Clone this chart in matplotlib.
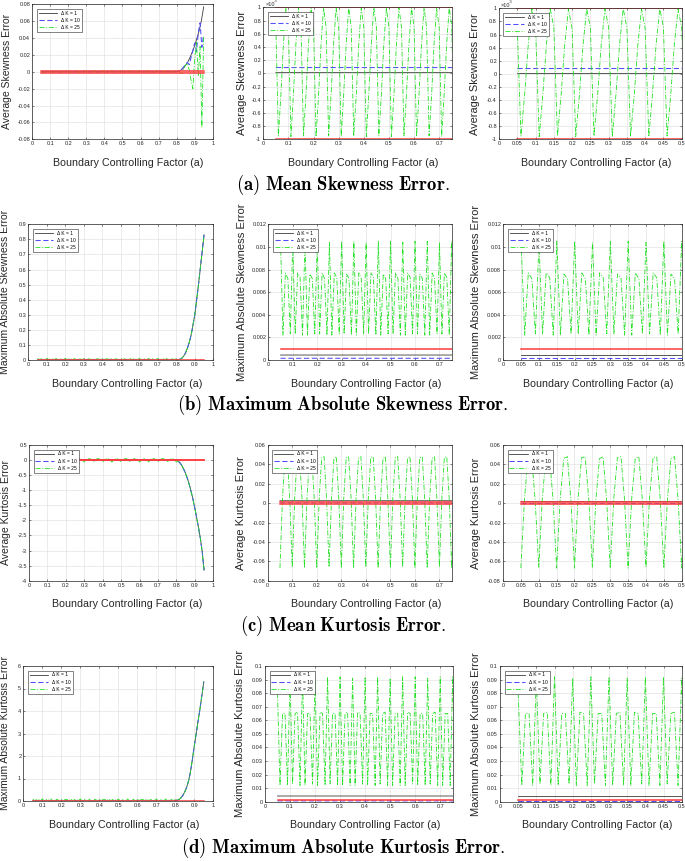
import numpy as np
import matplotlib
matplotlib.use("Agg")
import matplotlib.pyplot as plt
from matplotlib.ticker import FuncFormatter

W, H = 685, 861
plt.rcParams["font.family"] = ["Liberation Sans", "DejaVu Sans"]
plt.rcParams["mathtext.fontset"] = "cm"

# boundary controlling factor a, one sample every 0.01 (0.05 .. 0.95)
a_values = np.round(np.arange(0.05, 0.951, 0.01), 2)
n_flat = 76  # samples 0.05 .. 0.80 ; the *_tail lists hold 0.81 .. 0.95
legend_labels = ["\u0394 K = 1", "\u0394 K = 10", "\u0394 K = 25"]
x_label = "Boundary Controlling Factor (a)"

# (a) mean skewness error
skew_mean_k1_flat = 0.00001
skew_mean_k1_tail = [0.0005, 0.0015, 0.003, 0.005, 0.008, 0.011, 0.015, 0.02,
                     0.025, 0.031, 0.038, 0.045, 0.053, 0.064, 0.077]
skew_mean_k10_flat = 0.000087
skew_mean_k10_tail = [0.0006, 0.0018, 0.0035, 0.006, 0.0095, 0.011, 0.0085, 0.017,
                      0.025, 0.034, 0.024, 0.046, 0.058, 0.029, 0.044]
# x1e-3
skew_mean_k25_e3 = [0.72, -0.95, -0.33, 0.44, 0.99, 0.70, -0.96, -0.31, 0.46, 1.00,
                    0.71, -0.95, -0.32, 0.45, 0.99, 0.69, -0.96, -0.33, 0.44, 1.00,
                    0.70, -0.95, -0.31, 0.46, 0.99, 0.71, -0.96, -0.32, 0.45, 1.00,
                    0.70, -0.95, -0.33, 0.44, 0.99, 0.69, -0.96, -0.31, 0.45, 1.00,
                    0.71, -0.95, -0.32, 0.46, 0.99, 0.70, -0.96, -0.33, 0.44, 1.00,
                    0.70, -0.95, -0.31, 0.45, 0.99, 0.71, -0.96, -0.32, 0.45, 1.00,
                    0.69, -0.95, -0.33, 0.46, 0.99, 0.70, -0.96, -0.31, 0.44, 1.00,
                    0.71, -0.95, -0.32, 0.45, 0.99, 0.70]
skew_mean_k25_tail = [0.0, -0.002, -0.002, 0.004, 0.008, 0.01, 0.002, -0.01,
                      -0.02, 0.015, 0.035, -0.005, 0.03, -0.066, 0.043]
skew_mean_limits = [-0.001, 0.001]

# (b) maximum absolute skewness error
skew_max_k1_flat = 0.00044
skew_max_k10_flat = 0.00015
skew_max_tail = [0.002, 0.005, 0.012, 0.026, 0.048, 0.078, 0.117, 0.165,
                 0.23, 0.30, 0.40, 0.50, 0.61, 0.72, 0.83]
skew_max_k25_e3 = [10.5, 2.2, 7.7, 7.2, 2.3, 10.4, 2.3, 7.7, 7.3, 2.2,
                   10.5, 2.2, 7.6, 7.2, 2.3, 10.5, 2.3, 7.7, 7.2, 2.2,
                   10.4, 2.2, 7.7, 7.3, 2.3, 10.5, 2.3, 7.6, 7.2, 2.2,
                   10.5, 2.2, 7.7, 7.2, 2.3, 10.4, 2.3, 7.7, 7.3, 2.2,
                   10.5, 2.2, 7.6, 7.2, 2.3, 10.5, 2.3, 7.7, 7.2, 2.2,
                   10.4, 2.2, 7.7, 7.3, 2.3, 10.5, 2.3, 7.6, 7.2, 2.2,
                   10.5, 2.2, 7.7, 7.2, 2.3, 10.4, 2.3, 7.7, 7.3, 2.2,
                   10.5, 2.2, 7.6, 7.2, 2.3, 10.5]
skew_max_limits = [0.001]

# (c) mean kurtosis error
kurt_mean_k1_flat = 0.0025
kurt_mean_k10_flat = 0.0002
kurt_mean_tail = [-0.04, -0.1, -0.19, -0.31, -0.45, -0.62, -0.82, -1.05,
                  -1.31, -1.6, -1.92, -2.25, -2.6, -3.05, -3.65]
kurt_mean_k25 = [-0.067, 0.004, 0.046, 0.048, 0.003, -0.066, 0.005, 0.047, 0.048, 0.004,
                 -0.067, 0.004, 0.046, 0.048, 0.003, -0.067, 0.005, 0.047, 0.048, 0.004,
                 -0.066, 0.004, 0.046, 0.048, 0.003, -0.067, 0.005, 0.047, 0.048, 0.004,
                 -0.067, 0.004, 0.046, 0.048, 0.003, -0.066, 0.005, 0.047, 0.048, 0.004,
                 -0.067, 0.004, 0.046, 0.048, 0.003, -0.067, 0.005, 0.047, 0.048, 0.004,
                 -0.066, 0.004, 0.046, 0.048, 0.003, -0.067, 0.005, 0.047, 0.048, 0.004,
                 -0.067, 0.004, 0.046, 0.048, 0.003, -0.066, 0.005, 0.047, 0.048, 0.004,
                 -0.067, 0.004, 0.046, 0.048, 0.003, -0.067]
kurt_mean_limits = [-0.001, 0.001]

# (d) maximum absolute kurtosis error
kurt_max_k1_flat = 0.0042
kurt_max_k10_flat = 0.0006
kurt_max_tail = [0.03, 0.07, 0.14, 0.25, 0.41, 0.62, 0.9, 1.3,
                 1.85, 2.45, 3.0, 3.55, 4.1, 4.7, 5.3]
kurt_max_k25 = [0.080, 0.012, 0.065, 0.065, 0.012, 0.092, 0.013, 0.065, 0.066, 0.012,
                0.092, 0.012, 0.065, 0.065, 0.013, 0.091, 0.012, 0.066, 0.065, 0.012,
                0.092, 0.013, 0.065, 0.065, 0.012, 0.092, 0.012, 0.065, 0.066, 0.012,
                0.091, 0.012, 0.066, 0.065, 0.013, 0.092, 0.012, 0.065, 0.065, 0.012,
                0.092, 0.013, 0.065, 0.066, 0.012, 0.091, 0.012, 0.065, 0.065, 0.012,
                0.092, 0.012, 0.066, 0.065, 0.013, 0.092, 0.012, 0.065, 0.065, 0.012,
                0.091, 0.013, 0.065, 0.066, 0.012, 0.092, 0.012, 0.065, 0.065, 0.012,
                0.092, 0.012, 0.066, 0.065, 0.013, 0.091]
kurt_max_limits = [0.001]


def join(flat, tail):
    return np.r_[np.full(n_flat, flat), tail]


rows = [
    dict(k1=join(skew_mean_k1_flat, skew_mean_k1_tail),
         k10=join(skew_mean_k10_flat, skew_mean_k10_tail),
         k25=np.r_[np.array(skew_mean_k25_e3) * 1e-3, skew_mean_k25_tail],
         limits=skew_mean_limits, ylabel="Average Skewness Error",
         caption=r"$\mathbf{(a)\ Mean\ Skewness\ Error.}$", cap_y=185,
         full=((-0.08, 0.08), np.arange(-0.08, 0.081, 0.02), 1),
         zoom=((-1e-3, 1e-3), np.arange(-1e-3, 1.01e-3, 2e-4), 1e3),
         boxes=[(32.3, 212.7, 4.3, 139.3), (263.3, 451.7, 7.3, 139.3), (499, 681.7, 8.3, 139.3)],
         ylab_x=[7.5, 242, 475], xlab_y=163),
    dict(k1=join(skew_max_k1_flat, skew_max_tail),
         k10=join(skew_max_k10_flat, skew_max_tail),
         k25=np.r_[np.array(skew_max_k25_e3) * 1e-3, skew_max_tail],
         limits=skew_max_limits, ylabel="Maximum Absolute Skewness Error",
         caption=r"$\mathbf{(b)\ Maximum\ Absolute\ Skewness\ Error.}$", cap_y=405,
         full=((0, 0.9), np.arange(0, 0.91, 0.1), 1),
         zoom=((0, 0.012), np.arange(0, 0.0121, 0.002), 1),
         boxes=[(28.3, 213.3, 224.3, 360), (268.3, 451.7, 224.3, 360), (503.3, 681.7, 224.3, 360)],
         ylab_x=[5.5, 241.7, 476], xlab_y=384),
    dict(k1=join(kurt_mean_k1_flat, kurt_mean_tail),
         k10=join(kurt_mean_k10_flat, kurt_mean_tail),
         k25=np.r_[kurt_mean_k25, kurt_mean_tail],
         limits=kurt_mean_limits, ylabel="Average Kurtosis Error",
         caption=r"$\mathbf{(c)\ Mean\ Kurtosis\ Error.}$", cap_y=626,
         full=((-4, 0.5), np.arange(-4, 0.51, 0.5), 1),
         zoom=((-0.08, 0.06), np.arange(-0.08, 0.061, 0.02), 1),
         boxes=[(29, 213.3, 445, 580.7), (267.7, 451.7, 445, 580.7), (503, 681.7, 445, 580.7)],
         ylab_x=[6, 240.7, 476], xlab_y=604),
    dict(k1=join(kurt_max_k1_flat, kurt_max_tail),
         k10=join(kurt_max_k10_flat, kurt_max_tail),
         k25=np.r_[kurt_max_k25, kurt_max_tail],
         limits=kurt_max_limits, ylabel="Maximum Absolute Kurtosis Error",
         caption=r"$\mathbf{(d)\ Maximum\ Absolute\ Kurtosis\ Error.}$", cap_y=848,
         full=((0, 6), np.arange(0, 6.1, 1), 1),
         zoom=((0, 0.1), np.arange(0, 0.101, 0.01), 1),
         boxes=[(23.3, 213.3, 666, 801), (265, 452.7, 666, 801.7), (500, 681.7, 666, 801.7)],
         ylab_x=[5, 240, 475.7], xlab_y=825),
]

# x range / ticks for left, middle and right column
columns = [
    ((0, 1), np.arange(0, 1.01, 0.1)),
    ((0, 0.75), np.arange(0, 0.71, 0.1)),
    ((0, 0.5), np.arange(0, 0.51, 0.05)),
]
ylabel_size = [7.5, 8.1, 7.9]

AX_COL = "#262626"
fig = plt.figure(figsize=(W / 100, H / 100), dpi=100)


def fmt(scale):
    return FuncFormatter(lambda v, _: f"{round(v * scale, 6):g}")


for row in rows:
    for ci, (box, (xlim, xticks)) in enumerate(zip(row["boxes"], columns)):
        l, r, t, b = box
        ax = fig.add_axes([l / W, 1 - b / H, (r - l) / W, (b - t) / H])
        ylim, yticks, scale = row["full"] if ci == 0 else row["zoom"]

        ln1, = ax.plot(a_values, row["k1"], color="#3a3a3a", lw=0.6)
        ln2, = ax.plot(a_values, row["k10"], color="#4f4fff", lw=0.75, ls=(0, (5, 2.5)))
        ln3, = ax.plot(a_values, row["k25"], color="#22e022", lw=0.6, ls=(0, (6, 2, 1.2, 2)))
        for lvl in row["limits"]:
            ax.plot(a_values, np.full(len(a_values), lvl), color="#ff3b3b", lw=1.1)

        ax.set_xlim(xlim)
        ax.set_ylim(ylim)
        ax.set_xticks(xticks)
        ax.set_yticks(yticks)
        ax.xaxis.set_major_formatter(fmt(1))
        ax.yaxis.set_major_formatter(fmt(scale))
        ax.grid(True, color="#dcdcdc", lw=0.4)
        ax.set_axisbelow(True)
        ax.tick_params(direction="in", length=1.5, width=0.4, labelsize=4, pad=1.5,
                       colors=AX_COL, top=True, right=True)
        for s in ax.spines.values():
            s.set_color(AX_COL)
            s.set_linewidth(0.5)

        if scale != 1:
            ax.text(0.01, 1.005, "\u00d710", transform=ax.transAxes, fontsize=4,
                    ha="left", va="bottom", color=AX_COL)
            ax.text(0.055, 1.03, "-3", transform=ax.transAxes, fontsize=3,
                    ha="left", va="bottom", color=AX_COL)

        # legend box sits ~4 px in from the top-left corner
        bx = 4.5 / (r - l)
        by = 1 - 4.5 / (b - t)
        leg = ax.legend([ln1, ln2, ln3], legend_labels, loc="upper left",
                        bbox_to_anchor=(bx, by), borderaxespad=0, fontsize=3.5,
                        handlelength=3.8, handletextpad=0.8, labelspacing=0.45,
                        borderpad=0.4, fancybox=False, framealpha=1)
        leg.get_frame().set_edgecolor(AX_COL)
        leg.get_frame().set_linewidth(0.4)

        fig.text(row["ylab_x"][ci] / W, 1 - (t + b) / 2 / H, row["ylabel"], rotation=90,
                 ha="center", va="center", fontsize=ylabel_size[ci], color=AX_COL)
        fig.text(((l + r) / 2 + 6) / W, 1 - row["xlab_y"] / H, x_label,
                 ha="center", va="center", fontsize=7.7, color=AX_COL)

    fig.text(343 / W, 1 - row["cap_y"] / H, row["caption"], ha="center", va="center",
             fontsize=13.5)

fig.savefig("out.png", dpi=100)
